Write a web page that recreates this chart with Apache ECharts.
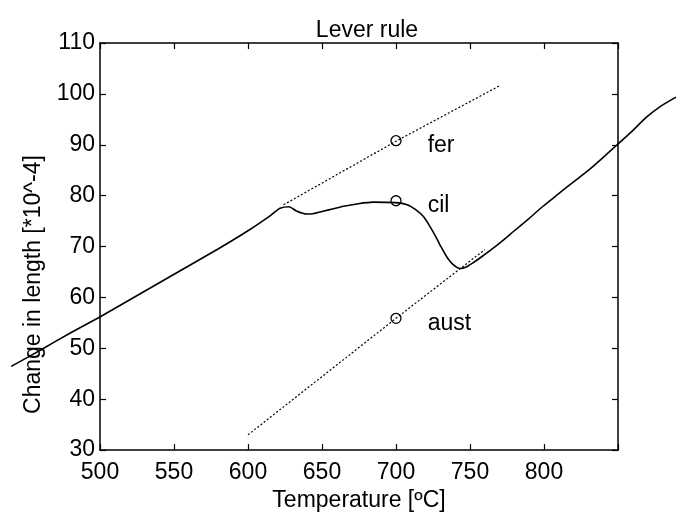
<!DOCTYPE html>
<html>
<head>
<meta charset="utf-8">
<script src="https://cdn.jsdelivr.net/npm/echarts@6/dist/echarts.min.js"></script>
<style>
html,body{margin:0;padding:0;background:#fff;}
#chart{width:676px;height:517px;}
</style>
</head>
<body>
<div id="chart"></div>
<script>
// ---- data ----
var titleText = 'Lever rule';
var xName = 'Temperature [\u00baC]';
var yName = 'Change in length [*10^-4]';
var xTicksShown = [500, 550, 600, 650, 700, 750, 800];
var yTicksShown = [30, 40, 50, 60, 70, 80, 90, 100, 110];

// measured dilatometer curve: temperature, change in length
var curveT = [440, 460, 480, 500, 520, 540, 560, 580, 600, 615, 622, 628, 633, 640, 645, 655, 665, 675, 685, 700,
              708, 714, 719, 723, 727, 731, 735, 739, 744, 748, 752, 758, 770, 780, 790, 800, 810, 820, 830, 840,
              850, 860, 870, 880, 890];
var curveV = [47.2, 50.4, 53.7, 56.8, 60.1, 63.4, 66.7, 70.0, 73.5, 76.4, 77.9, 78.2, 77.4, 76.8, 76.9, 77.6, 78.3, 78.8, 79.1, 79.0,
              78.6, 77.6, 76.3, 74.6, 72.6, 70.4, 68.4, 67.0, 66.2, 66.5, 67.2, 68.4, 71.0, 73.4, 75.8, 78.3, 80.6, 82.9, 85.1, 87.6,
              90.2, 92.8, 95.6, 97.8, 99.5];
// ferrite extrapolation (dotted)
var ferT = [624, 700, 770];
var ferV = [78.2, 90.7, 101.6];
// austenite extrapolation (dotted)
var austT = [600, 700, 760];
var austV = [33.0, 55.9, 69.4];
// lever-rule points at 700 C
var pointNames = ['fer', 'cil', 'aust'];
var pointT = [700, 700, 700];
var pointV = [90.8, 79.0, 55.9];

function zip(a, b) { return a.map(function (v, i) { return [v, b[i]]; }); }

var FONT = 'Liberation Sans, Arial, Helvetica, sans-serif';
var FS = 23;
var axisLineStyle = { color: '#000', width: 1.5 };
var tickStyle = { show: true, inside: true, length: 6, lineStyle: { color: '#000', width: 1.2 } };

// main axes box
var X0 = 500, X1 = 850, Y0 = 30, Y1 = 110;
var gridLeft = 100, gridRight = 58, gridTop = 43, gridBottom = 62;
var plotW = 676 - gridLeft - gridRight;
var pxPerT = plotW / (X1 - X0);
// wider invisible x-scale (same px per degree) so the trace can run past the box, as in the scan
var XW0 = 440, XW1 = 890;

var chart = echarts.init(document.getElementById('chart'), null, { renderer: 'canvas' });
chart.setOption({
  animation: false,
  backgroundColor: '#fff',
  title: {
    text: titleText,
    left: 362,
    top: 14,
    textAlign: 'center',
    textStyle: { fontFamily: FONT, fontSize: FS, fontWeight: 'normal', color: '#000' }
  },
  grid: [
    { left: gridLeft, right: gridRight, top: gridTop, bottom: gridBottom, containLabel: false },
    { left: gridLeft - (X0 - XW0) * pxPerT, width: (XW1 - XW0) * pxPerT, top: gridTop, bottom: gridBottom, containLabel: false }
  ],
  xAxis: [
    {
      type: 'value', gridIndex: 0, min: X0, max: X1, interval: 50, position: 'bottom',
      name: xName, nameLocation: 'middle', nameGap: 36,
      nameTextStyle: { fontFamily: FONT, fontSize: FS, color: '#000' },
      axisLine: { show: true, onZero: false, lineStyle: axisLineStyle },
      axisTick: tickStyle,
      axisLabel: {
        show: true, margin: 11, fontFamily: FONT, fontSize: FS, color: '#000',
        formatter: function (v) { return xTicksShown.indexOf(v) >= 0 ? String(v) : ''; }
      },
      splitLine: { show: false }
    },
    {
      type: 'value', gridIndex: 0, min: X0, max: X1, interval: 50, position: 'top',
      axisLine: { show: true, onZero: false, lineStyle: axisLineStyle },
      axisTick: tickStyle,
      axisLabel: { show: false },
      splitLine: { show: false }
    },
    {
      type: 'value', gridIndex: 1, min: XW0, max: XW1, show: false
    }
  ],
  yAxis: [
    {
      type: 'value', gridIndex: 0, min: Y0, max: Y1, interval: 10, position: 'left',
      name: yName, nameLocation: 'middle', nameGap: 55, nameRotate: 90,
      nameTextStyle: { fontFamily: FONT, fontSize: FS, color: '#000', padding: [0, 76, 0, 0] },
      axisLine: { show: true, onZero: false, lineStyle: axisLineStyle },
      axisTick: tickStyle,
      axisLabel: {
        show: true, margin: 5, fontFamily: FONT, fontSize: FS, color: '#000',
        formatter: function (v) { return yTicksShown.indexOf(v) >= 0 ? String(v) : ''; }
      },
      splitLine: { show: false }
    },
    {
      type: 'value', gridIndex: 0, min: Y0, max: Y1, interval: 10, position: 'right',
      axisLine: { show: true, onZero: false, lineStyle: axisLineStyle },
      axisTick: tickStyle,
      axisLabel: { show: false },
      splitLine: { show: false }
    },
    {
      type: 'value', gridIndex: 1, min: Y0, max: Y1, show: false
    }
  ],
  series: [
    {
      type: 'line', name: 'curve', data: zip(curveT, curveV),
      xAxisIndex: 2, yAxisIndex: 2, clip: false,
      showSymbol: false, symbol: 'none', smooth: 0.2,
      lineStyle: { color: '#000', width: 1.6 }
    },
    {
      type: 'line', name: 'ferrite', data: zip(ferT, ferV),
      xAxisIndex: 0, yAxisIndex: 0, clip: false,
      showSymbol: false, symbol: 'none',
      lineStyle: { color: '#000', width: 1.2, type: [2, 2] }
    },
    {
      type: 'line', name: 'austenite', data: zip(austT, austV),
      xAxisIndex: 0, yAxisIndex: 0, clip: false,
      showSymbol: false, symbol: 'none',
      lineStyle: { color: '#000', width: 1.2, type: [2, 2] }
    },
    {
      type: 'scatter', name: 'points',
      data: pointT.map(function (t, i) { return { name: pointNames[i], value: [t, pointV[i]] }; }),
      xAxisIndex: 0, yAxisIndex: 0,
      symbol: 'circle', symbolSize: 10,
      itemStyle: { color: 'rgba(255,255,255,0)', borderColor: '#000', borderWidth: 1.3, opacity: 1 },
      label: {
        show: true, position: 'right', distance: 26, offset: [0, 5],
        formatter: function (p) { return p.name; },
        fontFamily: FONT, fontSize: FS, color: '#000', opacity: 1
      },
      emphasis: { disabled: true }
    }
  ]
});
</script>
</body>
</html>
